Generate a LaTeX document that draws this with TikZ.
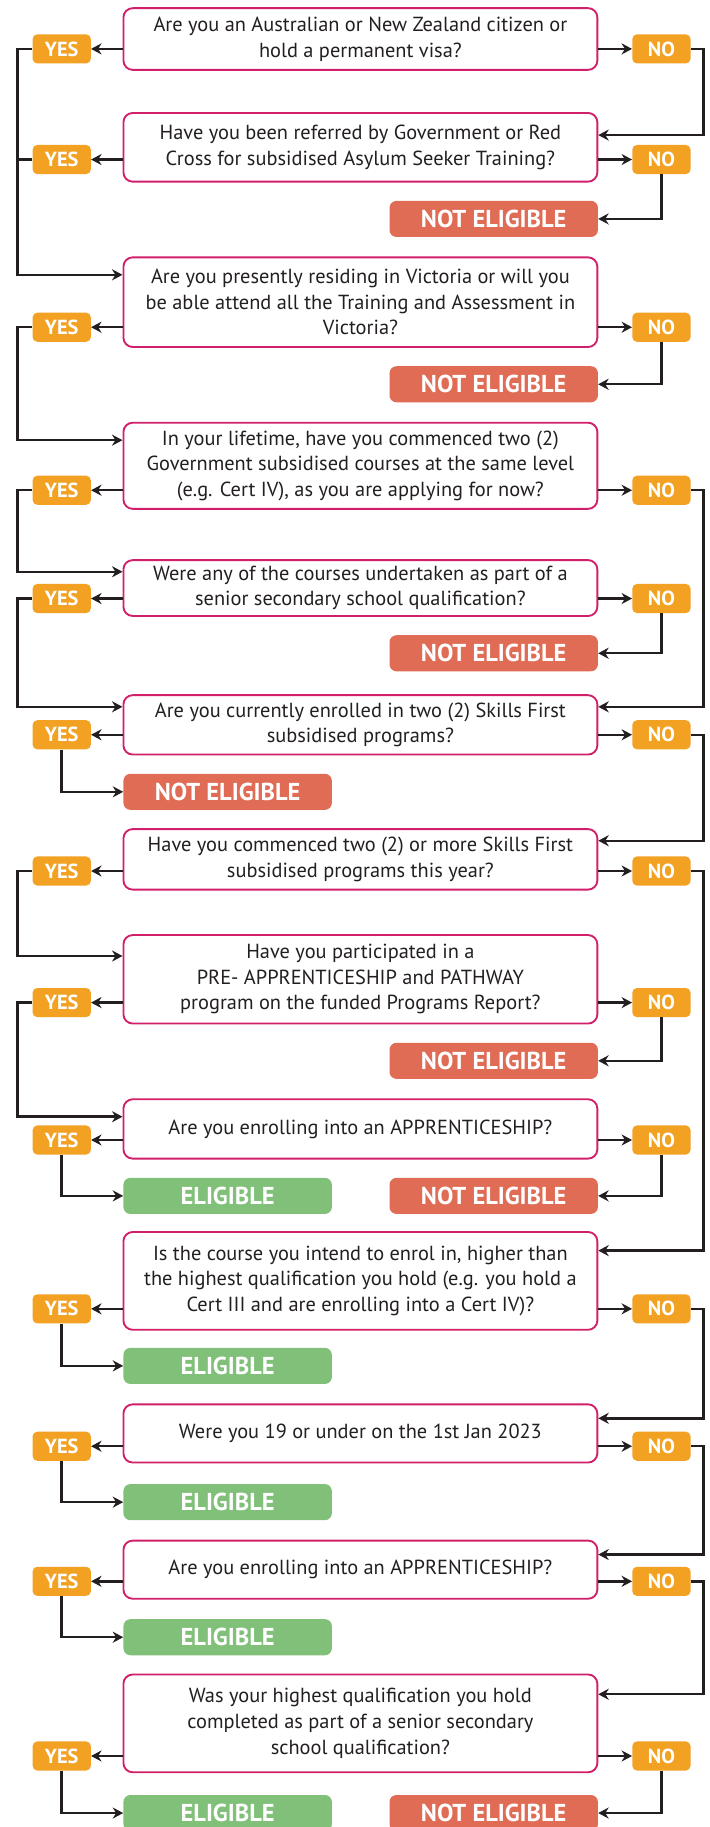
\documentclass[tikz,border=0pt]{standalone}
\usepackage{fontspec}
\setmainfont{PT Sans}
\usetikzlibrary{arrows.meta}
\definecolor{qborder}{HTML}{D21F69}
\definecolor{ynfill}{HTML}{F2A122}
\definecolor{nefill}{HTML}{E06C55}
\definecolor{elfill}{HTML}{80C078}
\definecolor{linec}{HTML}{231F20}
\newcommand\Qrow[5]{%
  \node[qbox, minimum height=#3pt] (q#1) at (309.5,#2) {#5};
  \node[yn] (y#1) at (53,#4) {YES};
  \node[yn] (n#1) at (568,#4) {NO};
  \draw[conn] (y#1.east -| q#1.west) -- (y#1.east);
  \draw[conn] (n#1.west -| q#1.east) -- (n#1.west);
}
\begin{document}
\begin{tikzpicture}[x=1pt,y=-1pt,
  qbox/.style={draw=qborder, line width=1.6pt, rounded corners=8pt, minimum width=407pt, fill=white, align=center, font=\fontsize{17.5}{22}\selectfont, text=linec, inner sep=0pt},
  yn/.style={fill=ynfill, rounded corners=4pt, minimum width=50pt, minimum height=25pt, text=white, font=\fontsize{17.5}{17.5}\selectfont\bfseries, inner sep=0pt},
  res/.style={rounded corners=6pt, minimum width=179pt, minimum height=31pt, text=white, font=\fontsize{21}{21}\selectfont\bfseries, inner sep=0pt},
  ne/.style={res, fill=nefill},
  el/.style={res, fill=elfill},
  conn/.style={draw=linec, line width=2.1pt, -{Stealth[length=9pt,width=9.5pt]}},
  plain/.style={draw=linec, line width=2.1pt},
]
\useasboundingbox (0,0) rectangle (609,1569);
\coordinate (L) at (15,0);
\coordinate (R) at (604,0);

\Qrow{1}{33.5}{53}{42}{Are you an Australian or New Zealand citizen or\\hold a permanent visa?}
\Qrow{2}{126.5}{59}{137}{Have you been referred by Government or Red\\Cross for subsidised Asylum Seeker Training?}
\Qrow{3}{259.5}{77}{281}{Are you presently residing in Victoria or will you\\be able attend all the Training and Assessment in\\Victoria?}
\Qrow{4}{400}{74}{421}{In your lifetime, have you commenced two (2)\\Government subsidised courses at the same level\\(e.g. Cert IV), as you are applying for now?}
\Qrow{5}{505}{48}{514}{Were any of the courses undertaken as part of a\\senior secondary school qualification?}
\Qrow{6}{622.5}{51}{631}{Are you currently enrolled in two (2) Skills First\\subsidised programs?}
\Qrow{7}{738}{52}{748}{Have you commenced two (2) or more Skills First\\subsidised programs this year?}
\Qrow{8}{841}{76}{861}{Have you participated in a\\PRE- APPRENTICESHIP and PATHWAY\\program on the funded Programs Report?}
\Qrow{9}{969.5}{51}{979}{Are you enrolling into an APPRENTICESHIP?}
\Qrow{10}{1100}{84}{1124}{Is the course you intend to enrol in, higher than\\the highest qualification you hold (e.g. you hold a\\Cert III and are enrolling into a Cert IV)?}
\Qrow{11}{1231}{50}{1242}{Were you 19 or under on the 1st Jan 2023}
\Qrow{12}{1348}{50}{1358}{Are you enrolling into an APPRENTICESHIP?}
\Qrow{13}{1480}{84}{1508}{Was your highest qualification you hold\\completed as part of a senior secondary\\school qualification?}

% results
\node[ne] (ne1) at (424,188) {NOT ELIGIBLE};
\node[ne] (ne2) at (424,330) {NOT ELIGIBLE};
\node[ne] (ne3) at (424,561) {NOT ELIGIBLE};
\node[ne] (ne4) at (195.5,680) {NOT ELIGIBLE};
\node[ne] (ne5) at (424,911) {NOT ELIGIBLE};
\node[el] (e1) at (195.5,1027) {ELIGIBLE};
\node[ne] (ne6) at (424,1027) {NOT ELIGIBLE};
\node[el] (e2) at (195.5,1173) {ELIGIBLE};
\node[el] (e3) at (195.5,1290) {ELIGIBLE};
\node[el] (e4) at (195.5,1406) {ELIGIBLE};
\node[el] (e5) at (195.5,1557) {ELIGIBLE};
\node[ne] (ne7) at (424,1557) {NOT ELIGIBLE};

% yes loops on the left
\draw[conn] (y1.west) -- (y1.west -| L) |- (q3.west |- 0,236);
\draw[plain] (y2.west) -- (y2.west -| L);
\draw[conn] (y3.west) -- (y3.west -| L) |- (q4.west |- 0,378);
\draw[conn] (y4.west) -- (y4.west -| L) |- (q5.west |- 0,491);
\draw[conn] (y5.west) -- (y5.west -| L) |- (q6.west |- 0,607);
\draw[conn] (y7.west) -- (y7.west -| L) |- (q8.west |- 0,821);
\draw[conn] (y8.west) -- (y8.west -| L) |- (q9.west |- 0,959);

% no loops on the right
\draw[conn] (n1.east) -- (n1.east -| R) |- (q2.east |- 0,116);
\draw[conn] (n4.east) -- (n4.east -| R) |- (q6.east |- 0,607);
\draw[conn] (n6.east) -- (n6.east -| R) |- (q7.east |- 0,722);
\draw[conn] (n7.east) -- (n7.east -| R) |- (q10.east |- 0,1074);
\draw[conn] (n10.east) -- (n10.east -| R) |- (q11.east |- 0,1218);
\draw[conn] (n11.east) -- (n11.east -| R) |- (q12.east |- 0,1335);
\draw[conn] (n12.east) -- (n12.east -| R) |- (q13.east |- 0,1455);

% down to results
\draw[conn] (n2.south) |- (ne1.east);
\draw[conn] (n3.south) |- (ne2.east);
\draw[conn] (n5.south) |- (ne3.east);
\draw[conn] (y6.south) |- (ne4.west);
\draw[conn] (n8.south) |- (ne5.east);
\draw[conn] (y9.south) |- (e1.west);
\draw[conn] (n9.south) |- (ne6.east);
\draw[conn] (y10.south) |- (e2.west);
\draw[conn] (y11.south) |- (e3.west);
\draw[conn] (y12.south) |- (e4.west);
\draw[conn] (y13.south) |- (e5.west);
\draw[conn] (n13.south) |- (ne7.east);
\end{tikzpicture}
\end{document}
